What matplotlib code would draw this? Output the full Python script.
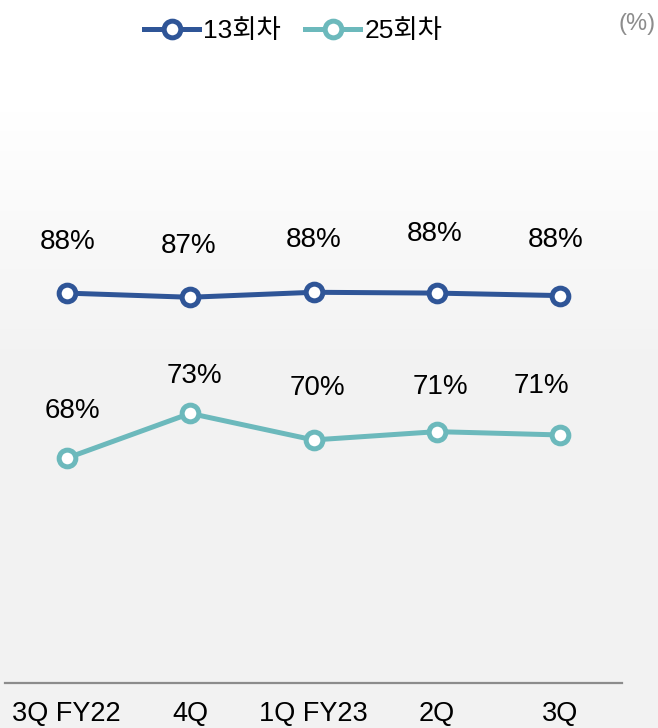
import numpy as np
import matplotlib
matplotlib.use('Agg')
import matplotlib.pyplot as plt
from matplotlib.colors import LinearSegmentedColormap

plt.rcParams['font.family'] = ['Liberation Sans', 'Noto Sans CJK KR', 'DejaVu Sans']

quarters = ['3Q FY22', '4Q', '1Q FY23', '2Q', '3Q']
series_names = ['13회차', '25회차']
ret_13 = [87.9, 87.4, 88.0, 87.9, 87.6]
ret_25 = [68.0, 73.4, 70.2, 71.2, 70.8]

blue = '#2f5597'
teal = '#6cb9bc'

# hand-placed label nudges (px) as in the source slide
nudge_13 = [(1, 51), (-2, 51), (0, 52), (-2, 59), (-5, 56)]
nudge_25 = [(6, 47), (4, 37), (4, 52), (4, 45), (-19, 49)]

fig = plt.figure(figsize=(6.58, 7.28), dpi=100)
W, H = 658, 728

# soft grey background, white at the top
bg = fig.add_axes([0, 0, 1, 1], zorder=-10)
grad = np.concatenate([np.zeros(110), np.linspace(0, 1, 260), np.ones(358)])[:, None]
bg.imshow(grad, aspect='auto', extent=[0, 1, 0, 1], origin='upper',
          cmap=LinearSegmentedColormap.from_list('bg', ['#ffffff', '#f2f2f2']))
bg.axis('off')

# plot area: x from 5px to 622px, axis line at y=683px
ax = fig.add_axes([5 / W, (H - 683) / H, 617 / W, (683 - 60) / H])
ax.patch.set_alpha(0)
x = np.arange(len(quarters))
ax.set_xlim(-0.5, 4.5)
ax.set_ylim(40.9, 116.0)

for vals, col, name, nudges in [(ret_13, blue, series_names[0], nudge_13),
                                (ret_25, teal, series_names[1], nudge_25)]:
    ax.plot(x, vals, color=col, lw=3.6, marker='o', ms=12, mfc='white',
            mec=col, mew=3.6, label=name, zorder=3)
    for xi, v, (dx, dy) in zip(x, vals, nudges):
        ax.annotate(f'{round(v)}%', (xi, v), xytext=(dx * 0.72, dy * 0.72),
                    textcoords='offset points', ha='center', va='center',
                    fontsize=20, color='black')

for s in ['top', 'right', 'left']:
    ax.spines[s].set_visible(False)
ax.spines['bottom'].set_color('#8c8c8c')
ax.spines['bottom'].set_linewidth(1.6)
ax.set_yticks([])
ax.set_xticks(x)
ax.set_xticklabels(quarters, fontsize=19.5,
                   family=['Liberation Sans Narrow', 'Liberation Sans'])
ax.tick_params(axis='x', length=0, pad=13)

leg = fig.legend(loc='center', bbox_to_anchor=(293 / W, 1 - 31 / H), ncol=2,
                 frameon=False, fontsize=19, handlelength=2.1,
                 handletextpad=0.15, columnspacing=0.9)

fig.text(637 / W, 1 - 24 / H, '(%)', ha='center', va='center',
         fontsize=17, color='#8c8c8c')

fig.savefig('out.png', dpi=100)
